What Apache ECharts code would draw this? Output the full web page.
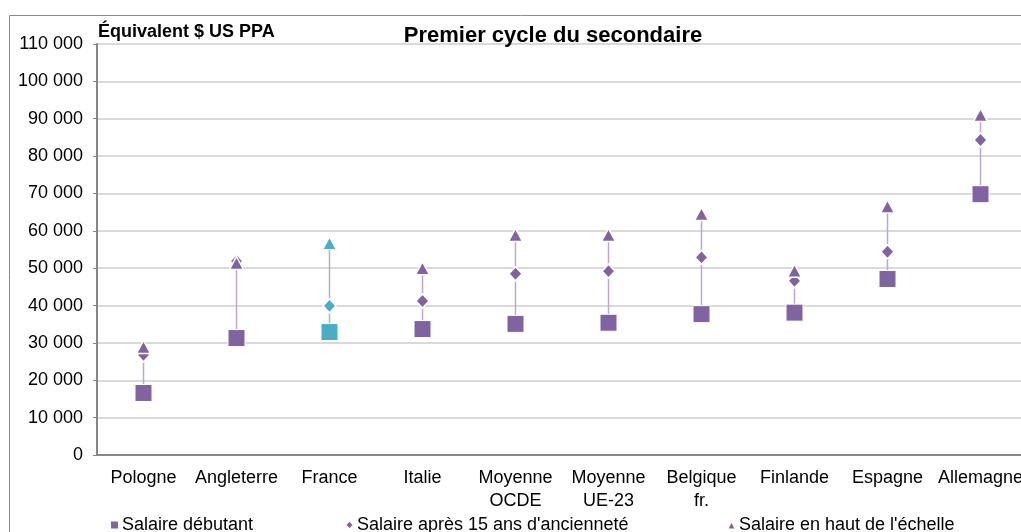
<!DOCTYPE html>
<html>
<head>
<meta charset="utf-8">
<script src="https://cdn.jsdelivr.net/npm/echarts@6/dist/echarts.min.js"></script>
<style>
  html, body { margin: 0; padding: 0; background: #fff; overflow: hidden; }
  #chart { width: 1030px; height: 532px; }
</style>
</head>
<body>
<div id="chart"></div>
<script>
const categories = ["Pologne", "Angleterre", "France", "Italie", "Moyenne\nOCDE", "Moyenne\nUE-23", "Belgique\nfr.", "Finlande", "Espagne", "Allemagne"]
const salaireDebutant = [16600, 31300, 32900, 33700, 35100, 35400, 37700, 38100, 47100, 69800]
const salaire15ans = [26800, 51900, 39900, 41200, 48500, 49200, 52900, 46600, 54400, 84300]
const salaireHaut = [28900, 51400, 56700, 50000, 58900, 58900, 64500, 49300, 66500, 91000]
const yTicks = [0, 10000, 20000, 30000, 40000, 50000, 60000, 70000, 80000, 90000, 100000, 110000]
const highlight = "France"

const purple = "#8064A2"
const teal = "#4BACC6"
const font = "Liberation Sans, Arial, sans-serif"

const chart = echarts.init(document.getElementById("chart"))

function colored(values) {
  return values.map((v, i) => ({
    value: v,
    itemStyle: { color: categories[i] === highlight ? teal : purple }
  }))
}

const option = {
  animation: false,
  textStyle: { fontFamily: font },
  title: {
    text: "Premier cycle du secondaire",
    left: 548,
    textAlign: "center",
    top: 20,
    textStyle: { fontSize: 22, fontWeight: "bold", color: "#000", fontFamily: font }
  },
  graphic: [
    {
      type: "rect",
      shape: { x: 9.5, y: 15.5, width: 1200, height: 700 },
      style: { fill: "none", stroke: "#8a8a8a", lineWidth: 1 },
      silent: true
    },
    {
      type: "text",
      left: 98,
      top: 23,
      style: { text: "Équivalent $ US PPA", font: "bold 18px " + font, fill: "#000" }
    }
  ],
  legend: [
    { data: ["Salaire débutant"], left: 104, top: 511 },
    { data: ["Salaire après 15 ans d'ancienneté"], left: 339, top: 511 },
    { data: ["Salaire en haut de l'échelle"], left: 721, top: 511 }
  ].map(l => Object.assign(l, {
    itemWidth: 9, itemHeight: 9, itemGap: 0,
    textStyle: { fontSize: 18, color: "#000", fontFamily: font, padding: [0, 0, 0, -2] }
  })),
  grid: { left: 97, top: 44, width: 930, height: 411 },
  xAxis: {
    type: "category",
    data: categories,
    axisLine: { lineStyle: { color: "#868686", width: 2 } },
    axisTick: { show: false },
    axisLabel: { color: "#000", fontSize: 18, margin: 12, lineHeight: 23, interval: 0 }
  },
  yAxis: {
    type: "value",
    min: 0,
    max: 110000,
    interval: 10000,
    axisLine: { show: true, lineStyle: { color: "#868686", width: 2 } },
    axisTick: { show: true, length: 4, lineStyle: { color: "#868686" } },
    splitLine: { lineStyle: { color: "#d9d9d9", width: 2 } },
    axisLabel: {
      color: "#000",
      fontSize: 18,
      margin: 14,
      formatter: v => yTicks.includes(v) ? String(v).replace(/\B(?=(\d{3})+(?!\d))/g, " ") : ""
    }
  },
  series: [
    {
      type: "custom",
      silent: true,
      z: 1,
      data: categories.map((c, i) => [i, salaireDebutant[i], salaireHaut[i]]),
      renderItem: (params, api) => {
        const lo = api.coord([api.value(0), api.value(1)])
        const hi = api.coord([api.value(0), api.value(2)])
        return {
          type: "line",
          shape: { x1: lo[0], y1: lo[1], x2: hi[0], y2: hi[1] },
          style: { stroke: "#b9a8d0", lineWidth: 1.5 }
        }
      }
    },
    {
      name: "Salaire débutant",
      type: "scatter",
      symbol: "rect",
      symbolSize: 17,
      z: 3,
      itemStyle: { color: purple, opacity: 1, borderColor: "#fff", borderWidth: 1 },
      data: colored(salaireDebutant)
    },
    {
      name: "Salaire après 15 ans d'ancienneté",
      type: "scatter",
      symbol: "diamond",
      symbolSize: [13, 14],
      z: 3,
      itemStyle: { color: purple, opacity: 1, borderColor: "#fff", borderWidth: 1.5 },
      data: colored(salaire15ans)
    },
    {
      name: "Salaire en haut de l'échelle",
      type: "scatter",
      symbol: "triangle",
      symbolSize: [14, 13],
      z: 4,
      itemStyle: { color: purple, opacity: 1, borderColor: "#fff", borderWidth: 1.5 },
      data: colored(salaireHaut)
    }
  ]
}

chart.setOption(option)
</script>
</body>
</html>
